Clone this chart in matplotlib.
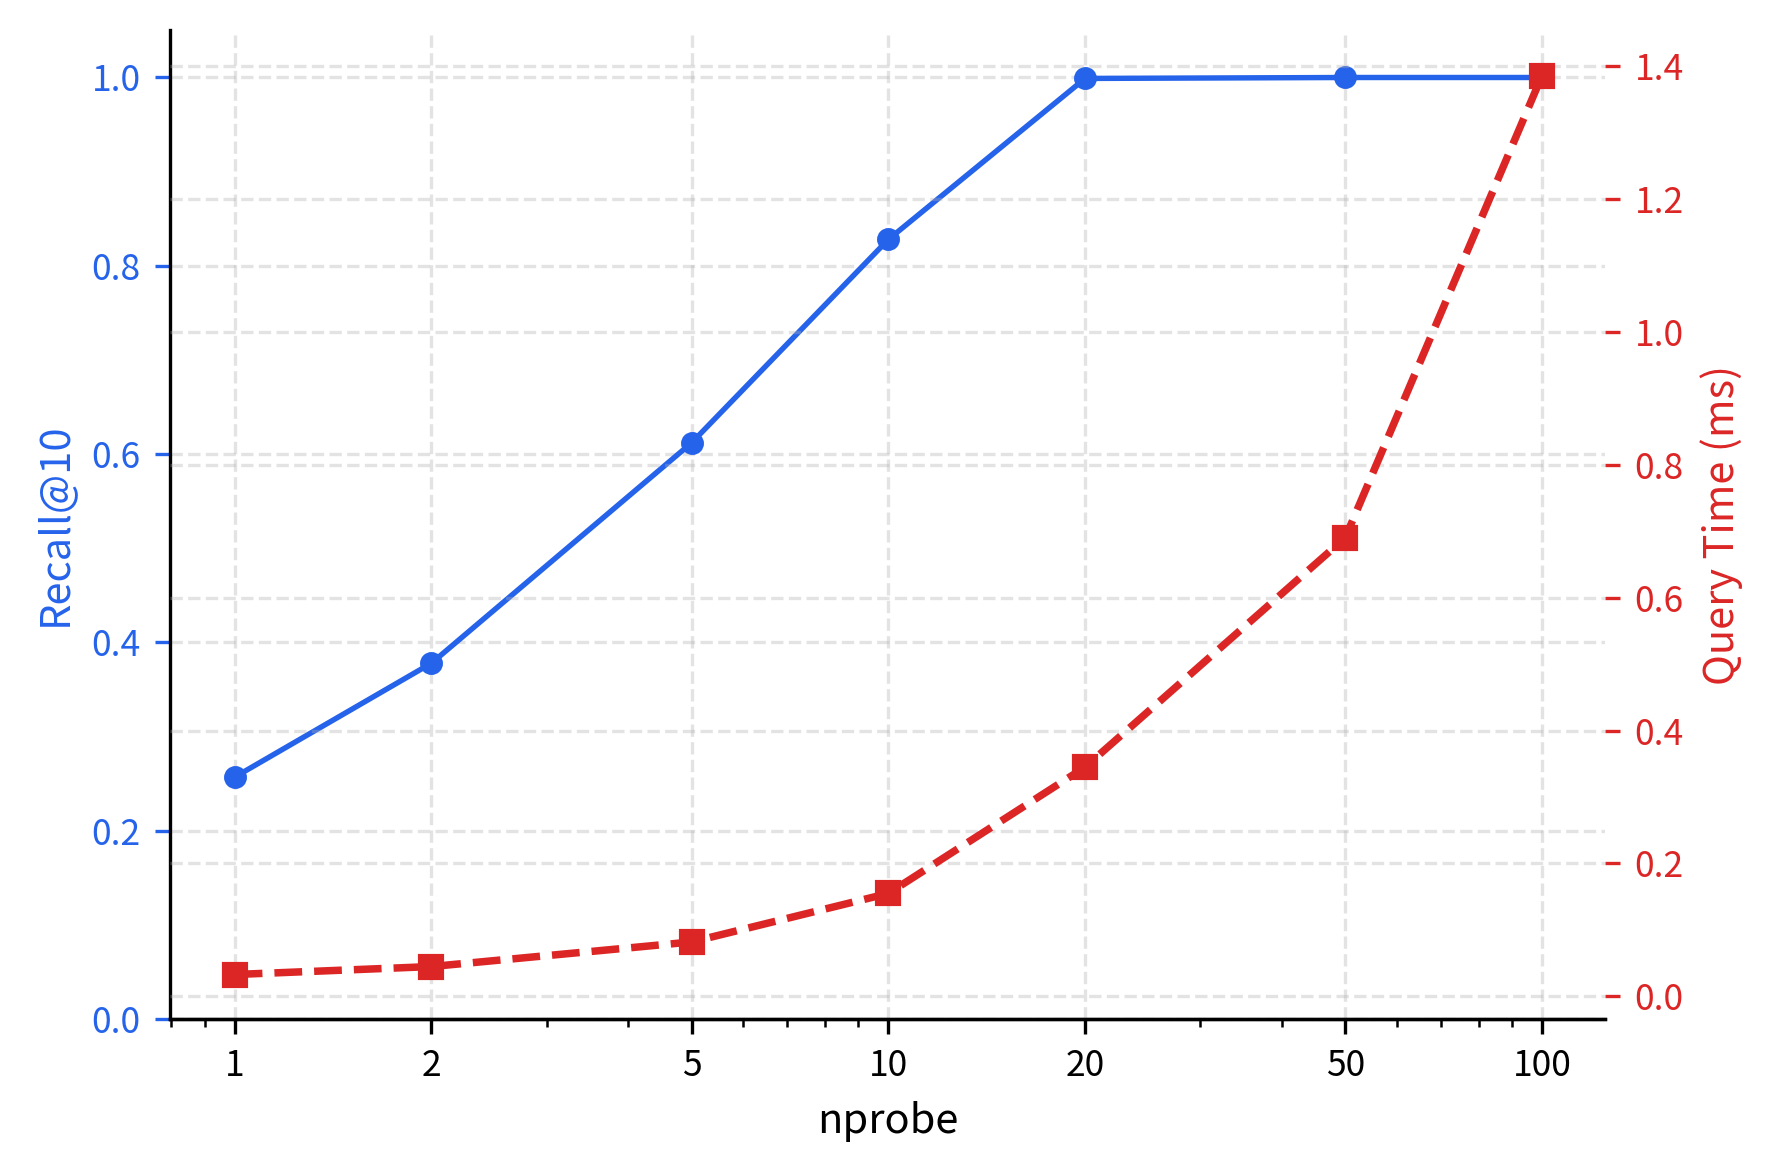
import matplotlib.pyplot as plt
from matplotlib.ticker import FixedLocator, NullFormatter

plt.rcParams['font.family'] = ['Noto Sans CJK SC', 'DejaVu Sans']

nprobe = [1, 2, 5, 10, 20, 50, 100]
recall = [0.257, 0.378, 0.612, 0.828, 0.999, 1.0, 1.0]
query_ms = [0.033, 0.045, 0.082, 0.155, 0.345, 0.690, 1.385]

blue = '#2563eb'
red = '#dc2626'

fig, ax = plt.subplots(figsize=(5.9, 3.9), dpi=300)
ax.plot(nprobe, recall, color=blue, marker='o', markersize=4.5, linewidth=1.3)
ax.set_xscale('log')
ax.set_xlim(0.796, 125)
ax.set_ylim(0, 1.05)
ax.xaxis.set_major_locator(FixedLocator(nprobe))
ax.set_xticklabels([str(n) for n in nprobe])
ax.xaxis.set_minor_formatter(NullFormatter())
ax.set_xlabel('nprobe', fontsize=10)
ax.set_ylabel('Recall@10', color=blue, fontsize=10)
ax.tick_params(axis='y', colors=blue, labelsize=8.5)
ax.tick_params(axis='x', labelsize=8.5)
ax.grid(True, linestyle='--', alpha=0.35)
ax.spines['top'].set_visible(False)
ax.spines['right'].set_visible(False)

ax2 = ax.twinx()
ax2.plot(nprobe, query_ms, color=red, marker='s', markersize=5.5, linewidth=1.8, linestyle='--')
ax2.set_ylim(-0.034, 1.453)
ax2.set_ylabel('Query Time (ms)', color=red, fontsize=10)
ax2.tick_params(axis='y', colors=red, labelsize=8.5)
ax2.grid(True, linestyle='--', alpha=0.35)
for s in ['top', 'right', 'left']:
    ax2.spines[s].set_visible(False)

pos = [0.096, 0.129, 0.811, 0.845]
ax.set_position(pos)
ax2.set_position(pos)
fig.savefig('out.png', dpi=300)
